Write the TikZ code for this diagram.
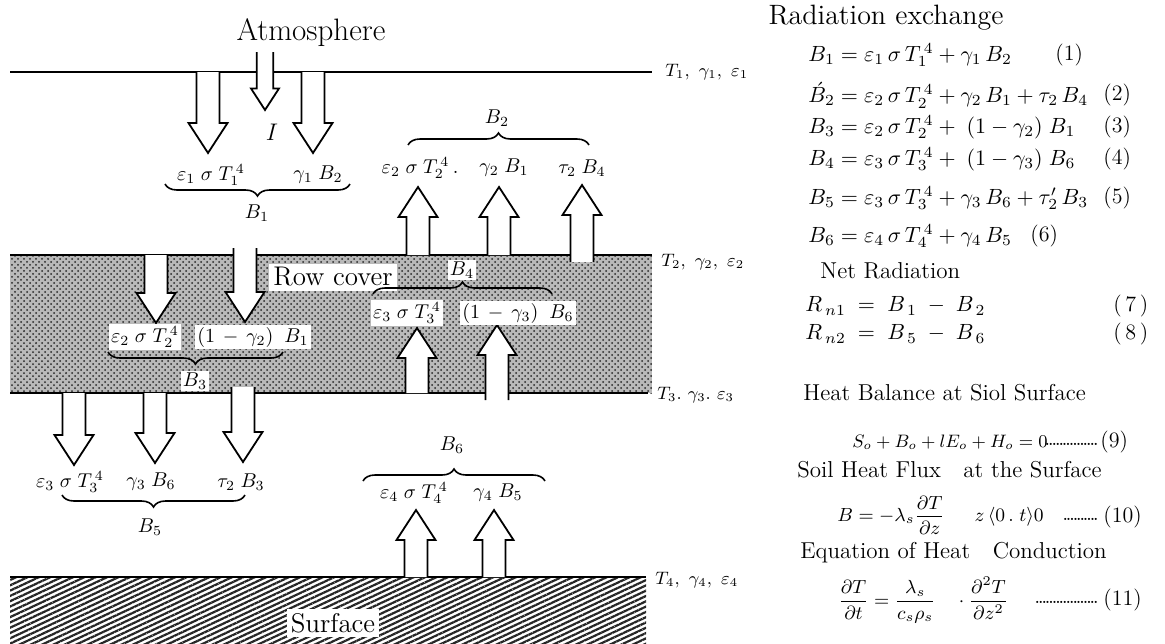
\RequirePackage{fix-cm}
\documentclass[tikz,border=0pt]{standalone}
\usepackage{amsmath,amssymb}
\usetikzlibrary{decorations.pathreplacing,patterns,patterns.meta}

% outlined block arrow: [scale]{x}{start y}{tip y}
\newcommand\fatarrow[4][1]{%
  \pgfmathsetmacro\hl{((#4>#3) ? 30 : -30)*#1}%
  \pgfmathsetmacro\sw{11.5*#1}%
  \pgfmathsetmacro\hw{19.5*#1}%
  \filldraw[bigarrow] ({#2-\sw},#3) -- ({#2-\sw},{#4-\hl}) -- ({#2-\hw},{#4-\hl})
    -- (#2,#4) -- ({#2+\hw},{#4-\hl}) -- ({#2+\sw},{#4-\hl}) -- ({#2+\sw},#3);}
\newcommand\leaderdots[1]{\makebox[#1]{\xleaders\hbox to 1.7pt{\hss.\hss}\hfill}}
\newcommand\gap{\mkern5mu}

\begin{document}
\begin{tikzpicture}[x=0.5pt,y=-0.5pt,
    layer/.style={line width=1pt},
    bigarrow/.style={draw,fill=white,line width=0.9pt,line join=miter},
    lbl/.style={font=\fontsize{10}{11}\selectfont,inner sep=1pt},
    wlbl/.style={lbl,fill=white},
    title/.style={font=\fontsize{15.5}{18}\selectfont,inner sep=2pt},
    head/.style={font=\fontsize{11.5}{14}\selectfont,anchor=west,inner sep=0pt},
    sub/.style={font=\fontsize{11.5}{13}\selectfont,anchor=west,inner sep=0pt},
    eqn/.style={font=\fontsize{11}{13}\selectfont,anchor=west,inner sep=0pt},
    small/.style={eqn,font=\fontsize{9.5}{11}\selectfont},
    num/.style={font=\fontsize{11}{13}\selectfont,anchor=west,inner sep=0pt},
    dots/.style={font=\fontsize{11}{13}\selectfont,anchor=east,inner sep=0pt},
    tlab/.style={font=\fontsize{9}{10}\selectfont,anchor=west,inner sep=0pt},
    brace/.style={decorate,decoration={brace,amplitude=6pt},line width=0.8pt}
]
\useasboundingbox (0,0) rectangle (1165,643);

% layers
\fill[gray!55] (10,255) rectangle (652,393);
\fill[pattern=crosshatch dots,pattern color=black!85] (10,255) rectangle (652,393);
\fill[pattern={Lines[angle=25,distance=2.4pt,line width=1.1pt]},pattern color=black!85]
  (10,577) rectangle (646,643);
\draw[layer] (10,72) -- (652,72);
\draw[layer] (10,255) -- (652,255);
\draw[layer] (10,393) -- (648,393);
\draw[layer] (10,577) -- (646,577);

\node[tlab] (t1) at (665,72) {$T_1,\ \gamma_1,\ \varepsilon_1$};
\node[tlab] (t2) at (661,262) {$T_2,\ \gamma_2,\ \varepsilon_2$};
\node[tlab] (t3) at (657,395) {$T_3.\ \gamma_3.\ \varepsilon_3$};
\node[tlab] (t4) at (655,580) {$T_4,\ \gamma_4,\ \varepsilon_4$};

% arrows
\fatarrow[0.72]{265}{52}{110}
\fatarrow{208}{72}{153}
\fatarrow{313}{72}{153}
\fatarrow{418}{255}{187}
\fatarrow{499}{255}{187}
\fatarrow{582}{262}{185}
\fatarrow{156}{255}{323}
\fatarrow{245}{248}{322}
\fatarrow{417}{393}{328}
\fatarrow{497}{400}{325}
\fatarrow{74}{393}{465}
\fatarrow{155}{393}{463}
\fatarrow{243}{387}{462}
\fatarrow{416}{577}{510}
\fatarrow{494}{577}{510}

% atmosphere
\node[title] (atm) at (311,33) {Atmosphere};
\node[font=\fontsize{12}{14}\selectfont] (irr) at (272,132) {$I$};
\node[lbl] (l11) at (211,175) {$\varepsilon_1\gap\sigma\gap T_1^{\,4}$};
\node[lbl] (l12) at (318,175) {$\gamma_1\gap B_2$};
\draw[brace] (350,184) -- (165,184);
\node[lbl] (b1) at (257,213) {$B_1$};

\node[lbl] (b2) at (497,118) {$B_2$};
\draw[brace] (408,145) -- (589,145);
\node[lbl] (l21) at (420,168) {$\varepsilon_2\gap\sigma\gap T_2^{\,4}\,.$};
\node[lbl] (l22) at (504,168) {$\gamma_2\gap B_1$};
\node[lbl] (l23) at (582,168) {$\tau_2\gap B_4$};

% row cover
\node[title,fill=white,font=\fontsize{13.5}{16}\selectfont] (cover) at (333,277) {Row cover};
\node[wlbl] (l31) at (145,337) {$\varepsilon_2\gap\sigma\gap T_2^{\,4}$};
\node[wlbl] (l32) at (253,337) {$(1\,-\,\gamma_2)\;\;B_1$};
\draw[brace] (283,352) -- (108,352);
\node[wlbl] (b3) at (195,381) {$B_3$};
\node[wlbl] (b4) at (462,270) {$B_4$};
\draw[brace] (373,294) -- (552,294);
\node[wlbl] (l41) at (407,313) {$\varepsilon_3\gap\sigma\gap T_3^{\,4}$};
\node[wlbl] (l42) at (518,313) {$(1\,-\,\gamma_3)\;\;B_6$};

% below the cover
\node[lbl] (l51) at (70,482) {$\varepsilon_3\gap\sigma\gap T_3^{\,4}$};
\node[lbl] (l52) at (151,482) {$\gamma_3\gap B_6$};
\node[lbl] (l53) at (241,482) {$\tau_2\gap B_3$};
\draw[brace] (245,495) -- (62,495);
\node[lbl] (b5) at (150,527) {$B_5$};

% surface
\node[lbl] (b6) at (452,445) {$B_6$};
\draw[brace] (363,481) -- (545,481);
\node[lbl] (l61) at (414,493) {$\varepsilon_4\gap\sigma\gap T_4^{\,4}$};
\node[lbl] (l62) at (498,493) {$\gamma_4\gap B_5$};
\node[title,fill=white,font=\fontsize{13.5}{16}\selectfont] (surf) at (333,623) {Surface};

% equations
\node[head,anchor=center,font=\fontsize{14}{17}\selectfont] (rex) at (886,18) {Radiation exchange};
\node[eqn] (eq1) at (808,55) {$B_1=\varepsilon_1\,\sigma\,T_1^{\,4}+\gamma_1\,B_2$};
\node[num] (n1) at (1055,55) {(1)};
\node[eqn] (eq2) at (808,95) {$\acute{B}_2=\varepsilon_2\,\sigma\,T_2^{\,4}+\gamma_2\,B_1+\tau_2\,B_4$};
\node[num] (n2) at (1103,95) {(2)};
\node[eqn] (eq3) at (808,127) {$B_3=\varepsilon_2\,\sigma\,T_2^{\,4}+\;(1-\gamma_2)\;B_1$};
\node[num] (n3) at (1103,127) {(3)};
\node[eqn] (eq4) at (808,159) {$B_4=\varepsilon_3\,\sigma\,T_3^{\,4}+\;(1-\gamma_3)\;B_6$};
\node[num] (n4) at (1103,159) {(4)};
\node[eqn] (eq5) at (808,198) {$B_5=\varepsilon_3\,\sigma\,T_3^{\,4}+\gamma_3\,B_6+\tau'_2\,B_3$};
\node[num] (n5) at (1103,198) {(5)};
\node[eqn] (eq6) at (808,236) {$B_6=\varepsilon_4\,\sigma\,T_4^{\,4}+\gamma_4\,B_5$};
\node[num] (n6) at (1030,236) {(6)};

\node[head] (net) at (820,271) {Net Radiation};
\node[eqn] (eq7) at (805,306) {$R_{\,n1}\;=\;B_{\,1}\;-\;B_{\,2}$};
\node[num] (n7) at (1113,306) {(\,7\,)};
\node[eqn] (eq8) at (805,334) {$R_{\,n2}\;=\;B_{\,5}\;-\;B_{\,6}$};
\node[num] (n8) at (1113,334) {(\,8\,)};

\node[sub] (heat) at (803,393) {Heat Balance at Siol Surface};
\node[small,font=\fontsize{9}{11}\selectfont] (eq9) at (852,442) {$S_o+B_o+lE_o+H_o=0$};
\node[dots] (d9) at (1098,444) {\leaderdots{26pt}};
\node[num] (n9) at (1100,442) {(9)};
\node[sub] (flux) at (797,470) {Soil Heat Flux\ \ \ at the Surface};
\node[small] (eq10) at (837,515) {$B=-\lambda_s\dfrac{\partial T}{\partial z}\quad\;\; z\,\langle 0\,.\;t\rangle 0$};
\node[dots] (d10) at (1098,519) {\leaderdots{17pt}};
\node[num] (n10) at (1103,517) {(10)};
\node[sub] (cond) at (800,553) {Equation of Heat\ \ \ Conduction};
\node[small] (eq11) at (838,600) {$\dfrac{\partial T}{\partial t}=\dfrac{\lambda_s}{c_s\rho_s}\quad\cdot\dfrac{\partial^2 T}{\partial z^2}$};
\node[dots] (d11) at (1098,602) {\leaderdots{31pt}};
\node[num] (n11) at (1103,600) {(11)};
\end{tikzpicture}
\end{document}
